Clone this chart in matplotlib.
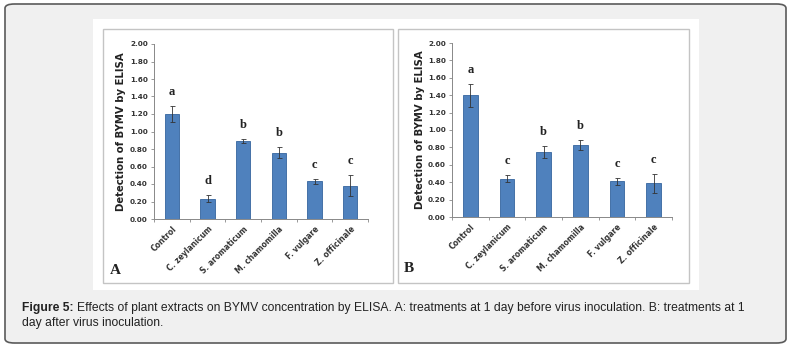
import numpy as np
import matplotlib
matplotlib.use("Agg")
import matplotlib.pyplot as plt
from matplotlib.patches import FancyBboxPatch, Rectangle
from matplotlib.text import Annotation

# data
treatments = ["Control", "C. zeylanicum", "S. aromaticum", "M. chamomilla",
              "F. vulgare", "Z. officinale"]
before_vals = [1.20, 0.23, 0.89, 0.76, 0.43, 0.38]
before_err = [0.09, 0.04, 0.02, 0.06, 0.03, 0.12]
before_letters = ["a", "d", "b", "b", "c", "c"]
after_vals = [1.40, 0.44, 0.75, 0.83, 0.41, 0.39]
after_err = [0.13, 0.04, 0.07, 0.06, 0.04, 0.11]
after_letters = ["a", "c", "b", "b", "c", "c"]
yticks = np.arange(0, 2.01, 0.2)

W, H = 791, 348
fig = plt.figure(figsize=(W / 100, H / 100), dpi=100)
fig.patch.set_facecolor("white")


def fr(x0, y0, x1, y1):
    # pixel box -> figure fraction rect
    return [x0 / W, 1 - y1 / H, (x1 - x0) / W, (y1 - y0) / H]


# outer rounded frame
r = fr(5, 4, 786, 343)
fig.patches.append(FancyBboxPatch((r[0], r[1]), r[2], r[3],
                                  boxstyle="round,pad=0,rounding_size=0.012",
                                  transform=fig.transFigure, facecolor="#f0f0f0",
                                  edgecolor="#5a5a5a", linewidth=1.2, zorder=-3))
# white image area
r = fr(93, 19, 699, 290)
fig.patches.append(Rectangle((r[0], r[1]), r[2], r[3], transform=fig.transFigure,
                             facecolor="white", edgecolor="none", zorder=-2))
# panel borders
for x0, x1 in [(103, 393), (398, 689)]:
    r = fr(x0, 29, x1, 283)
    fig.patches.append(Rectangle((r[0], r[1]), r[2], r[3], transform=fig.transFigure,
                                 facecolor="white", edgecolor="#c4c4c4",
                                 linewidth=1.0, zorder=-1))


def rect_mid(rect):
    return (1 - (rect[1] + rect[3] / 2)) * H


def panel(rect, vals, err, letters, tag, tag_xy, ylab_x):
    ax = fig.add_axes(rect)
    x = np.arange(len(treatments))
    ax.bar(x, vals, width=0.4, color="#4f81bd", edgecolor="#35659e", linewidth=0.6,
           zorder=2)
    ax.errorbar(x, vals, yerr=err, fmt="none", ecolor="#333333", elinewidth=0.6,
                capsize=1.8, capthick=0.6, zorder=3)
    for xi, v, e, l in zip(x, vals, err, letters):
        ax.text(xi, v + e + 0.09, l, ha="center", va="bottom", fontsize=9,
                fontweight="bold", family="Liberation Serif", color="#222222")
    ax.set_xlim(-0.5, len(treatments) - 0.5)
    ax.set_ylim(0, 2.0)
    ax.set_yticks(yticks)
    ax.set_yticklabels([f"{t:.2f}" for t in yticks], fontsize=5.2, fontweight="bold",
                       color="#333333")
    ax.set_xticks(x)
    ax.set_xticklabels(treatments, rotation=45, ha="right", rotation_mode="anchor",
                       fontsize=5.5, fontweight="bold", color="#333333")
    ax.set_xticks(np.arange(-0.5, len(treatments)), minor=True)
    ax.tick_params(axis="y", length=2.5, width=0.6, color="#888888", pad=2)
    ax.tick_params(axis="x", which="major", length=0, pad=4)
    ax.tick_params(axis="x", which="minor", length=2.5, width=0.6, color="#888888")
    for s in ["top", "right"]:
        ax.spines[s].set_visible(False)
    for s in ["left", "bottom"]:
        ax.spines[s].set_color("#888888")
        ax.spines[s].set_linewidth(0.7)
    ax.patch.set_alpha(0)
    fig.text(ylab_x / W, 1 - rect_mid(rect) / H, "Detection of BYMV by ELISA",
             rotation=90, ha="center", va="center", fontsize=7.3, fontweight="bold",
             color="#222222")
    fig.text(tag_xy[0] / W, 1 - tag_xy[1] / H, tag, ha="center", va="center",
             fontsize=11, fontweight="bold", family="Liberation Serif", color="#222222")
    return ax


panel(fr(154, 44, 368, 219), before_vals, before_err, before_letters, "A",
      (115, 270), 121)
panel(fr(452, 43, 672, 217), after_vals, after_err, after_letters, "B",
      (409, 268), 420)

# caption
cap_kw = dict(fontsize=8.75, family="Liberation Sans", color="#222222")
t1 = fig.text(22 / W, 1 - 311 / H, "Figure 5:", fontweight="bold", va="baseline",
              **cap_kw)
fig.add_artist(Annotation(
    "Effects of plant extracts on BYMV concentration by ELISA. "
    "A: treatments at 1 day before virus inoculation. B: treatments at 1",
    xy=(1, 0), xycoords=t1, xytext=(2.5, 0), textcoords="offset points",
    va="bottom", **cap_kw))
fig.text(22 / W, 1 - 326 / H, "day after virus inoculation.", va="baseline",
         **cap_kw)

fig.savefig("out.png", dpi=100, facecolor="white")
